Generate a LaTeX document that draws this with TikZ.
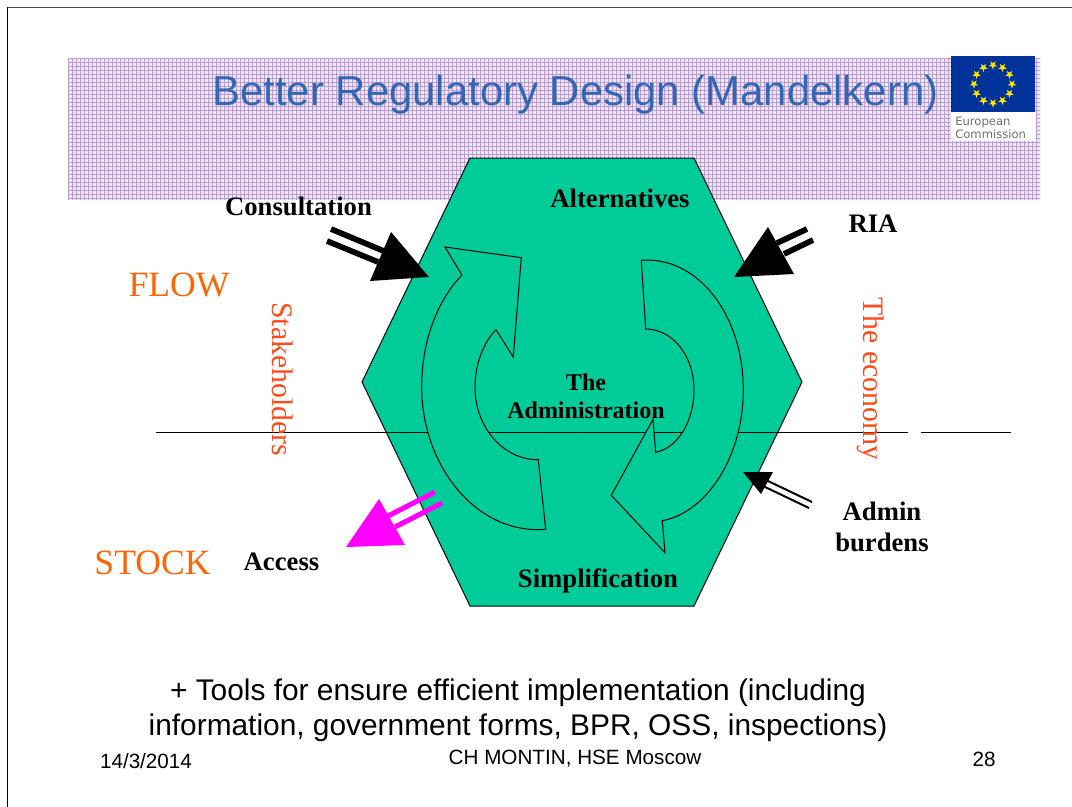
\documentclass[tikz,border=0pt]{standalone}
\usepackage{fontspec}
\setmainfont{Liberation Serif}
\setsansfont{Liberation Sans}
\newfontfamily\eufont{DejaVu Sans}
\definecolor{hexgreen}{HTML}{00CC99}
\definecolor{titleblue}{HTML}{3366B3}
\definecolor{orangeT}{HTML}{FF6600}
\definecolor{redT}{HTML}{FF4A1A}
\definecolor{magentaT}{HTML}{FF00FF}
\definecolor{band}{HTML}{A684CC}
\definecolor{euBlue}{HTML}{003399}
\definecolor{euStar}{HTML}{FFE600}
\definecolor{euGray}{HTML}{6E6E6E}
\tikzset{
  px/.style={x=0.75pt,y=-0.75pt},
  shapeline/.style={draw=black,line width=0.75pt,fill=hexgreen,line join=miter},
  boldlabel/.style={font=\bfseries\fontsize{20}{23.5}\selectfont,align=center,inner sep=0pt,text=black},
  redlabel/.style={font=\fontsize{22.3}{25}\selectfont,text=redT,inner sep=0pt,rotate=-90},
  flowlabel/.style={font=\fontsize{26.7}{30}\selectfont,text=orangeT,inner sep=0pt},
  footer/.style={font=\sffamily\fontsize{15.5}{18}\selectfont,text=black,inner sep=0pt},
}
\begin{document}
\begin{tikzpicture}[px]
\useasboundingbox (0,0) rectangle (1072,807);
\fill[white] (0,0) rectangle (1072,807);
% slide frame
\draw[line width=0.75pt,black!70] (7,7) -- (1072,7);
\draw[line width=0.75pt,black] (7,7) -- (7,807);
% patterned band
\begin{scope}
\clip (68,58) rectangle (1040,200);
\fill[band!18] (68,58) rectangle (1040,200);
\foreach \i in {0,...,243} {\draw[band!80,line width=0.7pt] ({68+4*\i},58) -- ({68+4*\i},200);}
\foreach \j in {0,...,36} {\draw[band!80,line width=0.7pt] (68,{58+4*\j}) -- (1040,{58+4*\j});}
\end{scope}
% logo
\fill[white] (951,112) rectangle (1036,141);
\fill[euBlue] (951,56) rectangle (1035,112);
\foreach \a in {0,30,...,330} {
  \fill[euStar] ({993+19*cos(\a)},{84+19*sin(\a)})
    +(90:4.5) -- +(126:1.8) -- +(162:4.5) -- +(198:1.8) -- +(234:4.5) -- +(270:1.8) -- +(306:4.5) -- +(342:1.8) -- +(18:4.5) -- +(54:1.8) -- cycle;
}
\node[font=\eufont\fontsize{8.7}{9.6}\selectfont,text=euGray,align=left,anchor=north west,inner sep=0pt] (eutext) at (955,117) {European\\Commission};
% title
\node[font=\sffamily\fontsize{31.4}{35}\selectfont,text=titleblue,inner sep=0pt] (title) at (575.5,95) {Better Regulatory Design (Mandelkern)};
% hexagon
\draw[shapeline] (470,158) -- (694,158) -- (802,382) -- (694,606) -- (470,606) -- (362,382) -- cycle;
% horizontal line
\coordinate (lineA) at (156,432);
\coordinate (lineB) at (908,432);
\coordinate (lineC) at (921,432);
\coordinate (lineD) at (1011,432);
\draw[line width=0.75pt] (lineA) -- (lineB);
\draw[line width=0.75pt] (lineC) -- (lineD);
% left circular arrow
\draw[shapeline] (445,247) -- (521.3,257.7) -- (513.3,357) -- (496,329.7)
  .. controls (483,343) and (475,365) .. (475,387)
  .. controls (475,428) and (504,460) .. (538.3,459.7)
  -- (545.7,529.3)
  .. controls (476,535) and (421.7,465) .. (421.7,387)
  .. controls (421.7,343) and (436,302) .. (462,275) -- cycle;
% right circular arrow
\draw[shapeline] (641.3,260.3)
  .. controls (698,256) and (743.3,315) .. (743.3,390)
  .. controls (743.3,455) and (708,512) .. (662.3,520.7)
  -- (665,552.7) -- (611.3,495.3) -- (653,419.3) -- (655.7,452.3)
  .. controls (678,448) and (694,421) .. (694,390)
  .. controls (694,355) and (672,329) .. (645.7,329) -- cycle;
% block arrows
\fill[black] (429,277) -- (391,232) -- (370,281) -- cycle;
\draw[black,line width=4.3pt] (331,229) -- (386,252);
\draw[black,line width=4.3pt] (327,241) -- (378,262);
\fill[black] (734,277) -- (768,227) -- (794,274) -- cycle;
\draw[black,line width=4.3pt] (777,243) -- (807,229);
\draw[black,line width=4.3pt] (784,254) -- (813,240);
\fill[black] (743,472) -- (773,472) -- (761,494) -- cycle;
\draw[black,line width=1.5pt] (768,481) -- (812,502);
\draw[black,line width=1.5pt] (763,486) -- (809,508);
\fill[magentaT] (346,547) -- (379,499) -- (405,545) -- cycle;
\draw[magentaT,line width=3.8pt] (388,516) -- (435,492);
\draw[magentaT,line width=3.8pt] (395,527) -- (442,503);
% labels
\node[boldlabel] (consult) at (298.5,206.5) {Consultation};
\node[boldlabel] (alt) at (620,198) {Alternatives};
\node[boldlabel] (ria) at (873,224) {RIA};
\node[boldlabel,font=\bfseries\fontsize{18}{21}\selectfont] (admin) at (586,396.5) {The\\Administration};
\node[boldlabel] (simp) at (598,581) {Simplification};
\node[boldlabel] (burd) at (882,527) {Admin\\burdens};
\node[boldlabel] (access) at (281.5,562) {Access};
\node[flowlabel] (flow) at (179,285) {FLOW};
\node[flowlabel] (stock) at (152.5,563) {STOCK};
\node[redlabel] (stake) at (283,379) {Stakeholders};
\node[redlabel] (econ) at (871,379) {The economy};
% bottom text
\node[font=\sffamily\fontsize{22.4}{26.4}\selectfont,align=center,inner sep=0pt] (tools) at (518,710) {+ Tools for ensure efficient implementation (including\\information, government forms, BPR, OSS, inspections)};
\node[footer] (date) at (146,761) {14/3/2014};
\node[footer] (mid) at (575,759) {CH MONTIN, HSE Moscow};
\node[footer] (page) at (984,759) {28};
\end{tikzpicture}
\end{document}
